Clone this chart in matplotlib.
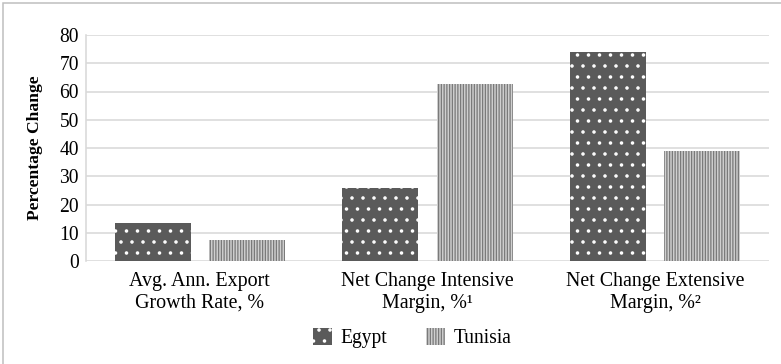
import numpy as np
import matplotlib.pyplot as plt
from matplotlib.patches import Rectangle

categories = ['Avg. Ann. Export\nGrowth Rate, %',
              'Net Change Intensive\nMargin, %\u00b9',
              'Net Change Extensive\nMargin, %\u00b2']
egypt = [13.5, 26.0, 74.0]
tunisia = [7.5, 62.5, 39.0]
yticks = [0, 10, 20, 30, 40, 50, 60, 70, 80]

DPI = 66
W, H = 781, 364
def px(v):
    # pixel size -> points at this dpi
    return v * 72.0 / DPI

plt.rcParams['font.family'] = ['Liberation Serif', 'DejaVu Serif']
plt.rcParams['hatch.linewidth'] = px(1.3)

fig = plt.figure(figsize=(W / DPI, H / DPI), dpi=DPI)
ax = fig.add_axes([86 / W, 1 - 261 / H, (769 - 86) / W, (261 - 35) / H])

x = np.arange(len(categories))
bw = 0.334
off = 0.207
ax.bar(x - off, egypt, bw, color='#5a5a5a', edgecolor='white', hatch='.',
       linewidth=0, label='Egypt', zorder=3)
ax.bar(x + off, tunisia, bw, color='#d0d0d0', edgecolor='#7a7a7a', hatch='||||',
       linewidth=0, label='Tunisia', zorder=3)

ax.set_xlim(-0.5, 2.5)
ax.set_ylim(0, 80)
ax.set_yticks(yticks)
ax.yaxis.grid(True, color='#d9d9d9', linewidth=px(1.6), zorder=0)
ax.set_axisbelow(True)
for s in ['top', 'right', 'bottom']:
    ax.spines[s].set_visible(False)
ax.spines['left'].set_color('#d9d9d9')
ax.spines['left'].set_linewidth(px(1.6))
ax.tick_params(axis='y', length=0, pad=px(7), labelsize=px(19.5))
ax.tick_params(axis='x', length=0, pad=px(11), labelsize=px(20))
ax.set_xticks(x)
ax.set_xticklabels(categories, linespacing=1.2)
ax.set_ylabel('Percentage Change', fontsize=px(17.5), fontweight='bold', labelpad=px(16))

leg = fig.legend(loc='center', bbox_to_anchor=(412 / W, 1 - 338 / H), ncol=2,
                 frameon=False, fontsize=px(19.5), handlelength=1.0, handleheight=1.0,
                 handletextpad=0.4, columnspacing=2.0)

# outer chart border
fig.patches.append(Rectangle((3 / W, -0.1), 1.1, 1 - 3 / H + 0.1,
                             transform=fig.transFigure, fill=False,
                             edgecolor='#bdbdbd', linewidth=px(1.5)))

fig.savefig('out.png', dpi=DPI)
